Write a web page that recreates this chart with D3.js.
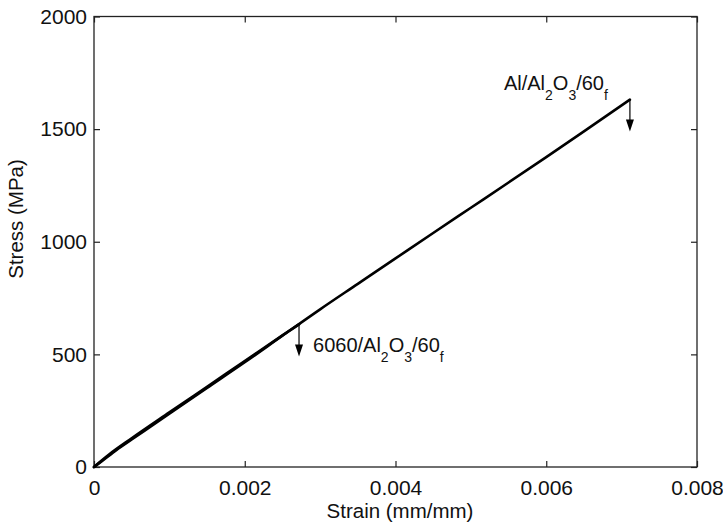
<!DOCTYPE html>
<html>
<head>
<meta charset="utf-8">
<script src="https://cdn.jsdelivr.net/npm/d3@7"></script>
<style>
  html, body { margin: 0; padding: 0; background: #fff; }
  svg { display: block; }
  text { font-family: "Liberation Sans", Arial, Helvetica, sans-serif; fill: #111; }
</style>
</head>
<body>
<svg id="chart" width="723" height="526"></svg>
<script>
// ---- data ----
const xTicks = [0, 0.002, 0.004, 0.006, 0.008];
const yTicks = [0, 500, 1000, 1500, 2000];

const alStrain = [0, 0.0001, 0.0003, 0.0005, 0.001, 0.0015, 0.002, 0.0025, 0.003, 0.0035, 0.004, 0.0045, 0.005, 0.0055, 0.006, 0.0065, 0.00711];
const alStress = [0, 25, 76, 122, 237, 351, 465, 583, 700, 813, 926, 1039, 1151, 1263, 1376, 1490, 1631];

const s6060Strain = [0, 0.0002, 0.0005, 0.001, 0.0015, 0.002, 0.0025, 0.00272];
const s6060Stress = [0, 55, 127, 242, 356, 470, 584, 633];

const xLabel = "Strain (mm/mm)";
const yLabel = "Stress (MPa)";

// ---- layout ----
const svg = d3.select("#chart");
const L = 94, R = 697, T = 16.5, B = 467;
const x = d3.scaleLinear().domain([0, 0.008]).range([L, R]);
const y = d3.scaleLinear().domain([0, 2000]).range([B, T]);
const fmtX = d => d === 0 ? "0" : d3.format(".3f")(d);

const tickFont = 21;

const gB = svg.append("g").attr("transform", `translate(0,${B})`)
  .call(d3.axisBottom(x).tickValues(xTicks).tickFormat(fmtX)
    .tickSizeInner(-6).tickSizeOuter(0).tickPadding(13));
const gL = svg.append("g").attr("transform", `translate(${L},0)`)
  .call(d3.axisLeft(y).tickValues(yTicks).tickFormat(d3.format("d"))
    .tickSizeInner(-6).tickSizeOuter(0).tickPadding(7));
const gT = svg.append("g").attr("transform", `translate(0,${T})`)
  .call(d3.axisTop(x).tickValues(xTicks).tickFormat("")
    .tickSizeInner(-6).tickSizeOuter(0));
const gR = svg.append("g").attr("transform", `translate(${R},0)`)
  .call(d3.axisRight(y).tickValues(yTicks).tickFormat("")
    .tickSizeInner(-6).tickSizeOuter(0));

[gB, gL, gT, gR].forEach(g => {
  g.select(".domain").remove();
  g.selectAll(".tick line").attr("stroke", "#222").attr("stroke-width", 1.2);
  g.selectAll("text").attr("font-size", tickFont)
    .style("font-family", '"Liberation Sans", Arial, sans-serif').attr("fill", "#111");
});

// frame
svg.append("rect").attr("x", L).attr("y", T).attr("width", R - L).attr("height", B - T)
  .attr("fill", "none").attr("stroke", "#222").attr("stroke-width", 1.3);

// axis titles
svg.append("text").attr("x", 400).attr("y", 518)
  .attr("text-anchor", "middle").attr("font-size", 20.5).text(xLabel);
svg.append("text").attr("transform", "translate(23,219) rotate(-90)")
  .attr("text-anchor", "middle").attr("font-size", 20.5).text(yLabel);

// curves
const line = d3.line().x(d => x(d[0])).y(d => y(d[1])).curve(d3.curveMonotoneX);
const alData = alStrain.map((s, i) => [s, alStress[i]]);
const d6060 = s6060Strain.map((s, i) => [s, s6060Stress[i]]);

svg.append("path").datum(alData).attr("d", line)
  .attr("fill", "none").attr("stroke", "#000").attr("stroke-width", 2.6)
  .attr("stroke-linejoin", "round").attr("stroke-linecap", "round");
svg.append("path").datum(d6060).attr("d", line)
  .attr("fill", "none").attr("stroke", "#000").attr("stroke-width", 2.8)
  .attr("stroke-linejoin", "round").attr("stroke-linecap", "round");

// arrows at failure points
function arrow(pt, len) {
  const px = x(pt[0]), py = y(pt[1]);
  svg.append("line").attr("x1", px).attr("x2", px).attr("y1", py).attr("y2", py + len - 10)
    .attr("stroke", "#000").attr("stroke-width", 1.2);
  svg.append("path")
    .attr("d", `M${px - 4},${py + len - 12} L${px + 4},${py + len - 12} L${px},${py + len} Z`)
    .attr("fill", "#000");
}
const alEnd = alData[alData.length - 1];
const e6060 = d6060[d6060.length - 1];
arrow(alEnd, 32);
arrow(e6060, 32);

// labels with subscripts
function label(px, py, parts, size, subSize) {
  const t = svg.append("text").attr("x", px).attr("y", py).attr("font-size", size);
  let sub = false;
  parts.forEach(p => {
    const isSub = !!p.sub;
    let dy = 0;
    if (isSub && !sub) dy = 10; else if (!isSub && sub) dy = -10;
    t.append("tspan").attr("dy", dy).attr("font-size", isSub ? subSize : size).text(p.t);
    sub = isSub;
  });
}
label(x(alEnd[0]) - 126, y(alEnd[1]) - 10,
  [{t: "Al/Al"}, {t: "2", sub: true}, {t: "O"}, {t: "3", sub: true}, {t: "/60"}, {t: "f", sub: true}], 20, 14);
label(x(e6060[0]) + 14, y(e6060[1]) + 28,
  [{t: "6060/Al"}, {t: "2", sub: true}, {t: "O"}, {t: "3", sub: true}, {t: "/60"}, {t: "f", sub: true}], 20, 14);
</script>
</body>
</html>
